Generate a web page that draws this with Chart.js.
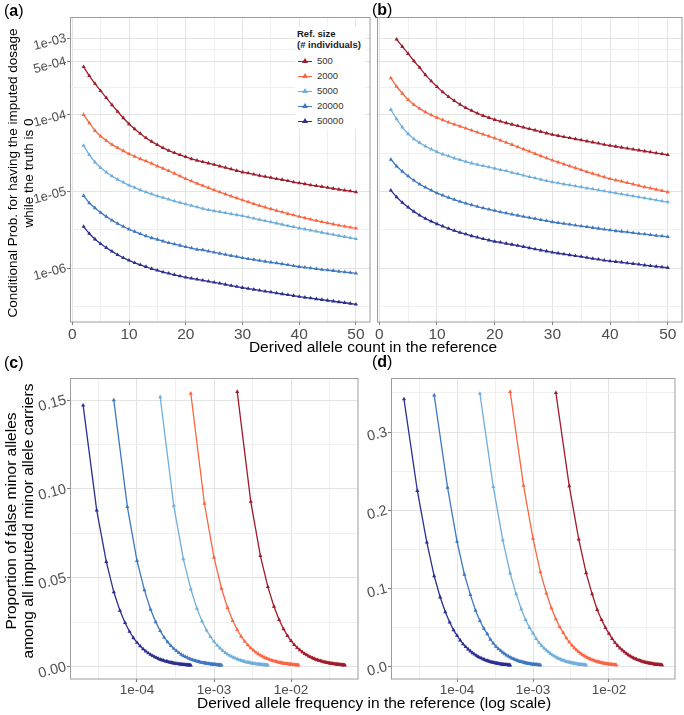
<!DOCTYPE html>
<html>
<head>
<meta charset="utf-8">
<script src="https://cdn.jsdelivr.net/npm/chart.js@4.4.0/dist/chart.umd.min.js"></script>
<style>
  body { margin: 0; background: #fff; font-family: "Liberation Sans", Arial, sans-serif; }
  #fig { position: relative; width: 684px; height: 715px; overflow: hidden; background: #fff; }
  canvas { position: absolute; }
  .txt { position: absolute; color: #000; white-space: nowrap; z-index: 2; }
  .tag { font-size: 16px; line-height: 18px; }
  .xtitle { font-size: 15.5px; line-height: 18px; text-align: center; width: 420px; }
  .ytitle { text-align: center; transform: rotate(-90deg); }
  #legendA { position: absolute; left: 295px; top: 27px; width: 70px; height: 102px; background: #fff; z-index: 2; }
  #legendA .lg-title { position: absolute; left: 2px; top: 1px; font-size: 9.5px; line-height: 11px; font-weight: bold; color: #1a1a1a; }
  #legendA .lg-row { position: absolute; left: 0; height: 12px; width: 70px; }
  #legendA .lg-sw { position: absolute; left: 3px; top: 5.5px; width: 14px; height: 1.4px; }
  #legendA .lg-sw i { position: absolute; left: 4px; top: -2.5px; width: 0; height: 0;
    border-left: 3px solid transparent; border-right: 3px solid transparent; border-bottom: 5px solid; }
  #legendA .lg-tx { position: absolute; left: 22px; top: 0; font-size: 9.5px; line-height: 12px; color: #333; }
</style>
</head>
<body>
<div id="fig">
  <canvas id="chartA" width="372" height="345" style="left:0;top:0"></canvas>
  <canvas id="chartB" width="312" height="345" style="left:372px;top:0"></canvas>
  <canvas id="chartC" width="362" height="362" style="left:0;top:340px"></canvas>
  <canvas id="chartD" width="322" height="362" style="left:362px;top:340px"></canvas>

  <div class="txt tag" style="left:4px;top:2px">(<b>a</b>)</div>
  <div class="txt tag" style="left:372px;top:1px">(<b>b</b>)</div>
  <div class="txt tag" style="left:4px;top:354px">(<b>c</b>)</div>
  <div class="txt tag" style="left:372px;top:353px">(<b>d</b>)</div>

  <div class="txt ytitle" style="left:-139px;top:157px;width:320px;height:32px;font-size:13.5px;line-height:16px">Conditional Prob. for having the imputed dosage<br>while the truth is 0</div>
  <div class="txt ytitle" style="left:-141px;top:504px;width:320px;height:34px;font-size:15.5px;line-height:17px">Proportion of false minor alleles<br>among all imputedd minor allele carriers</div>

  <div class="txt xtitle" style="left:163px;top:338px">Derived allele count in the reference</div>
  <div class="txt xtitle" style="left:164px;top:694px">Derived allele frequency in the reference (log scale)</div>

  <div id="legendA"><div class="lg-title">Ref. size<br>(# individuals)</div></div>
</div>

<script>
// ---- data ----
const counts = [2, 3, 4, 5, 6, 7, 8, 9, 10, 11, 12, 13, 14, 15, 16, 17, 18, 19, 20, 21, 22, 23, 24, 25, 26,
  27, 28, 29, 30, 31, 32, 33, 34, 35, 36, 37, 38, 39, 40, 41, 42, 43, 44, 45, 46, 47, 48, 49, 50];
const refSizes = [500, 2000, 5000, 20000, 50000];
const sizeColors = ['#a01b2b', '#fb6642', '#70afdc', '#3f78c1', '#2b2f8f'];

// (a) conditional probability
const probA500 = [4.20e-4, 3.21e-4, 2.55e-4, 2.05e-4, 1.66e-4, 1.34e-4, 1.10e-4, 9.06e-5, 7.57e-5, 6.52e-5,
  5.66e-5, 4.98e-5, 4.46e-5, 4.04e-5, 3.69e-5, 3.40e-5, 3.18e-5, 2.99e-5, 2.82e-5, 2.65e-5,
  2.53e-5, 2.43e-5, 2.33e-5, 2.24e-5, 2.13e-5, 2.04e-5, 1.95e-5, 1.86e-5, 1.78e-5, 1.73e-5,
  1.67e-5, 1.61e-5, 1.56e-5, 1.51e-5, 1.46e-5, 1.42e-5, 1.37e-5, 1.32e-5, 1.28e-5, 1.25e-5,
  1.21e-5, 1.18e-5, 1.15e-5, 1.12e-5, 1.09e-5, 1.06e-5, 1.03e-5, 1.01e-5, 9.8e-6];
const probA2000 = [1.00e-4, 7.80e-5, 6.19e-5, 5.24e-5, 4.59e-5, 4.07e-5, 3.69e-5, 3.37e-5, 3.08e-5, 2.85e-5,
  2.65e-5, 2.48e-5, 2.31e-5, 2.13e-5, 1.99e-5, 1.85e-5, 1.71e-5, 1.58e-5, 1.46e-5, 1.36e-5,
  1.27e-5, 1.19e-5, 1.11e-5, 1.04e-5, 9.77e-6, 9.18e-6, 8.65e-6, 8.17e-6, 7.69e-6, 7.28e-6,
  6.89e-6, 6.53e-6, 6.21e-6, 5.90e-6, 5.62e-6, 5.36e-6, 5.12e-6, 4.90e-6, 4.69e-6, 4.50e-6,
  4.32e-6, 4.16e-6, 4.00e-6, 3.86e-6, 3.73e-6, 3.61e-6, 3.50e-6, 3.40e-6, 3.30e-6];
const probA5000 = [3.95e-5, 2.99e-5, 2.40e-5, 2.03e-5, 1.78e-5, 1.58e-5, 1.43e-5, 1.31e-5, 1.20e-5, 1.12e-5,
  1.04e-5, 9.79e-6, 9.23e-6, 8.69e-6, 8.28e-6, 7.87e-6, 7.48e-6, 7.13e-6, 6.84e-6, 6.52e-6,
  6.25e-6, 5.96e-6, 5.75e-6, 5.56e-6, 5.40e-6, 5.24e-6, 5.08e-6, 4.93e-6, 4.79e-6, 4.61e-6,
  4.45e-6, 4.29e-6, 4.13e-6, 3.98e-6, 3.84e-6, 3.70e-6, 3.56e-6, 3.44e-6, 3.31e-6, 3.21e-6,
  3.10e-6, 3.01e-6, 2.91e-6, 2.82e-6, 2.73e-6, 2.64e-6, 2.56e-6, 2.48e-6, 2.40e-6];
const probA20000 = [8.79e-6, 7.05e-6, 6.07e-6, 5.28e-6, 4.69e-6, 4.20e-6, 3.80e-6, 3.48e-6, 3.21e-6, 2.99e-6,
  2.79e-6, 2.62e-6, 2.47e-6, 2.36e-6, 2.24e-6, 2.13e-6, 2.05e-6, 1.97e-6, 1.89e-6, 1.82e-6,
  1.75e-6, 1.72e-6, 1.66e-6, 1.60e-6, 1.55e-6, 1.50e-6, 1.45e-6, 1.41e-6, 1.36e-6, 1.32e-6,
  1.29e-6, 1.25e-6, 1.22e-6, 1.19e-6, 1.16e-6, 1.13e-6, 1.10e-6, 1.07e-6, 1.04e-6, 1.02e-6,
  9.98e-7, 9.77e-7, 9.57e-7, 9.40e-7, 9.23e-7, 9.04e-7, 8.87e-7, 8.71e-7, 8.53e-7];
const probA50000 = [3.48e-6, 2.82e-6, 2.38e-6, 2.07e-6, 1.84e-6, 1.65e-6, 1.49e-6, 1.36e-6, 1.26e-6, 1.17e-6,
  1.10e-6, 1.04e-6, 9.79e-7, 9.33e-7, 8.87e-7, 8.53e-7, 8.18e-7, 7.87e-7, 7.57e-7, 7.35e-7,
  7.13e-7, 6.92e-7, 6.71e-7, 6.52e-7, 6.31e-7, 6.11e-7, 5.92e-7, 5.73e-7, 5.55e-7, 5.40e-7,
  5.26e-7, 5.12e-7, 4.98e-7, 4.85e-7, 4.72e-7, 4.59e-7, 4.47e-7, 4.36e-7, 4.24e-7, 4.14e-7,
  4.05e-7, 3.95e-7, 3.86e-7, 3.78e-7, 3.69e-7, 3.61e-7, 3.53e-7, 3.45e-7, 3.37e-7];

// (b) conditional probability (500 has no value at count 2)
const probB500 = [null, 9.62e-4, 7.71e-4, 6.25e-4, 5.02e-4, 4.11e-4, 3.30e-4, 2.74e-4, 2.31e-4, 1.97e-4,
  1.71e-4, 1.52e-4, 1.36e-4, 1.23e-4, 1.13e-4, 1.04e-4, 9.70e-5, 9.14e-5, 8.61e-5, 8.18e-5,
  7.80e-5, 7.46e-5, 7.14e-5, 6.84e-5, 6.55e-5, 6.27e-5, 6.00e-5, 5.74e-5, 5.50e-5, 5.32e-5,
  5.14e-5, 4.98e-5, 4.82e-5, 4.67e-5, 4.51e-5, 4.37e-5, 4.23e-5, 4.08e-5, 3.95e-5, 3.85e-5,
  3.74e-5, 3.64e-5, 3.54e-5, 3.44e-5, 3.34e-5, 3.25e-5, 3.16e-5, 3.08e-5, 2.99e-5];
const probB2000 = [3.00e-4, 2.33e-4, 1.89e-4, 1.57e-4, 1.35e-4, 1.20e-4, 1.08e-4, 9.91e-5, 9.14e-5, 8.53e-5,
  7.94e-5, 7.48e-5, 7.05e-5, 6.64e-5, 6.25e-5, 5.89e-5, 5.55e-5, 5.24e-5, 4.93e-5, 4.62e-5,
  4.34e-5, 4.06e-5, 3.79e-5, 3.55e-5, 3.32e-5, 3.10e-5, 2.90e-5, 2.72e-5, 2.54e-5, 2.40e-5,
  2.26e-5, 2.14e-5, 2.02e-5, 1.91e-5, 1.80e-5, 1.71e-5, 1.62e-5, 1.54e-5, 1.46e-5, 1.40e-5,
  1.35e-5, 1.29e-5, 1.24e-5, 1.19e-5, 1.14e-5, 1.10e-5, 1.06e-5, 1.02e-5, 9.77e-6];
const probB5000 = [1.16e-4, 8.79e-5, 6.84e-5, 5.61e-5, 4.83e-5, 4.29e-5, 3.88e-5, 3.55e-5, 3.27e-5, 3.05e-5,
  2.88e-5, 2.71e-5, 2.58e-5, 2.45e-5, 2.33e-5, 2.24e-5, 2.15e-5, 2.07e-5, 1.99e-5, 1.91e-5,
  1.85e-5, 1.76e-5, 1.69e-5, 1.62e-5, 1.55e-5, 1.49e-5, 1.43e-5, 1.37e-5, 1.32e-5, 1.28e-5,
  1.24e-5, 1.21e-5, 1.17e-5, 1.14e-5, 1.10e-5, 1.07e-5, 1.04e-5, 1.01e-5, 9.79e-6, 9.51e-6,
  9.23e-6, 8.96e-6, 8.69e-6, 8.43e-6, 8.18e-6, 7.94e-6, 7.71e-6, 7.48e-6, 7.26e-6];
const probB20000 = [2.61e-5, 2.13e-5, 1.82e-5, 1.58e-5, 1.39e-5, 1.24e-5, 1.13e-5, 1.03e-5, 9.51e-6, 8.87e-6,
  8.28e-6, 7.80e-6, 7.35e-6, 6.98e-6, 6.65e-6, 6.32e-6, 6.07e-6, 5.83e-6, 5.61e-6, 5.38e-6,
  5.22e-6, 5.02e-6, 4.85e-6, 4.70e-6, 4.55e-6, 4.40e-6, 4.26e-6, 4.12e-6, 3.99e-6, 3.89e-6,
  3.80e-6, 3.71e-6, 3.61e-6, 3.53e-6, 3.44e-6, 3.36e-6, 3.28e-6, 3.20e-6, 3.12e-6, 3.05e-6,
  3.00e-6, 2.94e-6, 2.88e-6, 2.82e-6, 2.77e-6, 2.71e-6, 2.65e-6, 2.61e-6, 2.55e-6];
const probB50000 = [1.03e-5, 8.43e-6, 7.13e-6, 6.19e-6, 5.45e-6, 4.88e-6, 4.42e-6, 4.07e-6, 3.76e-6, 3.51e-6,
  3.27e-6, 3.08e-6, 2.90e-6, 2.77e-6, 2.62e-6, 2.51e-6, 2.40e-6, 2.31e-6, 2.22e-6, 2.16e-6,
  2.09e-6, 2.03e-6, 1.96e-6, 1.90e-6, 1.83e-6, 1.77e-6, 1.71e-6, 1.66e-6, 1.60e-6, 1.56e-6,
  1.52e-6, 1.48e-6, 1.44e-6, 1.41e-6, 1.37e-6, 1.33e-6, 1.30e-6, 1.26e-6, 1.23e-6, 1.21e-6,
  1.19e-6, 1.16e-6, 1.14e-6, 1.12e-6, 1.09e-6, 1.07e-6, 1.05e-6, 1.03e-6, 1.01e-6];

// (c) proportion of false minor alleles
const falseC500 = [0.1547, 0.0929, 0.0624, 0.0449, 0.0339, 0.0264, 0.0212, 0.0174, 0.0146, 0.0124,
  0.0107, 0.0094, 0.0083, 0.0073, 0.0066, 0.0059, 0.0054, 0.0049, 0.0045, 0.0041,
  0.0038, 0.0035, 0.0033, 0.0030, 0.0028, 0.0026, 0.0025, 0.0023, 0.0022, 0.0021,
  0.0020, 0.0019, 0.0018, 0.0017, 0.0016, 0.0015, 0.0015, 0.0014, 0.0013, 0.0013,
  0.0012, 0.0012, 0.0011, 0.0011, 0.0010, 0.0010, 0.0010, 0.0009, 0.0009];
const falseC2000 = [0.1537, 0.0918, 0.0614, 0.0440, 0.0332, 0.0259, 0.0208, 0.0170, 0.0143, 0.0122,
  0.0105, 0.0092, 0.0081, 0.0072, 0.0064, 0.0058, 0.0052, 0.0048, 0.0044, 0.0040,
  0.0037, 0.0034, 0.0032, 0.0030, 0.0028, 0.0026, 0.0024, 0.0023, 0.0021, 0.0020,
  0.0019, 0.0018, 0.0017, 0.0016, 0.0016, 0.0015, 0.0014, 0.0014, 0.0013, 0.0012,
  0.0012, 0.0011, 0.0011, 0.0011, 0.0010, 0.0010, 0.0009, 0.0009, 0.0009];
const falseC5000 = [0.1517, 0.0906, 0.0605, 0.0436, 0.0327, 0.0256, 0.0205, 0.0168, 0.0141, 0.0120,
  0.0104, 0.0090, 0.0079, 0.0070, 0.0063, 0.0057, 0.0051, 0.0047, 0.0043, 0.0039,
  0.0036, 0.0034, 0.0031, 0.0029, 0.0027, 0.0025, 0.0024, 0.0022, 0.0021, 0.0020,
  0.0019, 0.0018, 0.0017, 0.0016, 0.0015, 0.0015, 0.0014, 0.0013, 0.0013, 0.0012,
  0.0012, 0.0011, 0.0011, 0.0010, 0.0010, 0.0010, 0.0009, 0.0009, 0.0009];
const falseC20000 = [0.1500, 0.0899, 0.0596, 0.0431, 0.0322, 0.0252, 0.0202, 0.0165, 0.0139, 0.0118,
  0.0102, 0.0089, 0.0078, 0.0069, 0.0062, 0.0056, 0.0051, 0.0046, 0.0042, 0.0039,
  0.0036, 0.0033, 0.0031, 0.0029, 0.0027, 0.0025, 0.0023, 0.0022, 0.0021, 0.0020,
  0.0019, 0.0018, 0.0017, 0.0016, 0.0015, 0.0014, 0.0014, 0.0013, 0.0013, 0.0012,
  0.0012, 0.0011, 0.0011, 0.0010, 0.0010, 0.0010, 0.0009, 0.0009, 0.0009];
const falseC50000 = [0.1470, 0.0880, 0.0590, 0.0420, 0.0316, 0.0247, 0.0198, 0.0162, 0.0136, 0.0116,
  0.0100, 0.0087, 0.0077, 0.0068, 0.0061, 0.0055, 0.0050, 0.0045, 0.0041, 0.0038,
  0.0035, 0.0032, 0.0030, 0.0028, 0.0026, 0.0024, 0.0023, 0.0021, 0.0020, 0.0019,
  0.0018, 0.0017, 0.0016, 0.0015, 0.0015, 0.0014, 0.0013, 0.0013, 0.0012, 0.0012,
  0.0011, 0.0011, 0.0010, 0.0010, 0.0010, 0.0009, 0.0009, 0.0009, 0.0008];

// (d) proportion of false minor alleles
const falseD500 = [0.350, 0.231, 0.163, 0.120, 0.093, 0.073, 0.060, 0.050, 0.0425, 0.036,
  0.031, 0.027, 0.0238, 0.0212, 0.0189, 0.0169, 0.0152, 0.0138, 0.0125, 0.0114,
  0.0105, 0.0097, 0.0089, 0.0083, 0.0077, 0.0071, 0.0067, 0.0062, 0.0058, 0.0055,
  0.0052, 0.0049, 0.0046, 0.0044, 0.0042, 0.0040, 0.0038, 0.0036, 0.0034, 0.0033,
  0.0031, 0.0030, 0.0029, 0.0028, 0.0027, 0.0026, 0.0025, 0.0024, 0.0023];
const falseD2000 = [0.3515, 0.2315, 0.1638, 0.121, 0.094, 0.075, 0.061, 0.051, 0.0435, 0.0368,
  0.0316, 0.0275, 0.0241, 0.0214, 0.0191, 0.0171, 0.0154, 0.0139, 0.0126, 0.0115,
  0.0106, 0.0097, 0.0090, 0.0083, 0.0077, 0.0072, 0.0067, 0.0063, 0.0059, 0.0055,
  0.0052, 0.0049, 0.0046, 0.0044, 0.0042, 0.0040, 0.0038, 0.0036, 0.0034, 0.0033,
  0.0031, 0.0030, 0.0029, 0.0028, 0.0027, 0.0026, 0.0025, 0.0024, 0.0023];
const falseD5000 = [0.349, 0.230, 0.162, 0.1196, 0.093, 0.074, 0.060, 0.050, 0.043, 0.036,
  0.031, 0.027, 0.0237, 0.0211, 0.0188, 0.0168, 0.0151, 0.0137, 0.0124, 0.0113,
  0.0104, 0.0096, 0.0088, 0.0082, 0.0076, 0.0071, 0.0066, 0.0062, 0.0058, 0.0054,
  0.0051, 0.0048, 0.0046, 0.0043, 0.0041, 0.0039, 0.0037, 0.0035, 0.0034, 0.0032,
  0.0031, 0.0030, 0.0028, 0.0027, 0.0026, 0.0025, 0.0024, 0.0023, 0.0023];
const falseD20000 = [0.347, 0.229, 0.160, 0.118, 0.092, 0.072, 0.059, 0.049, 0.042, 0.035,
  0.030, 0.026, 0.023, 0.0207, 0.0184, 0.0165, 0.0148, 0.0134, 0.0122, 0.0111,
  0.0102, 0.0094, 0.0087, 0.0080, 0.0074, 0.0069, 0.0065, 0.0061, 0.0057, 0.0053,
  0.0050, 0.0047, 0.0045, 0.0042, 0.0040, 0.0038, 0.0036, 0.0034, 0.0033, 0.0031,
  0.0030, 0.0029, 0.0028, 0.0027, 0.0026, 0.0025, 0.0024, 0.0023, 0.0022];
const falseD50000 = [0.342, 0.225, 0.159, 0.116, 0.089, 0.070, 0.057, 0.047, 0.040, 0.034,
  0.029, 0.0255, 0.0225, 0.020, 0.0178, 0.016, 0.0144, 0.013, 0.0118, 0.0108,
  0.0099, 0.0091, 0.0084, 0.0078, 0.0072, 0.0067, 0.0063, 0.0059, 0.0055, 0.0052,
  0.0049, 0.0046, 0.0043, 0.0041, 0.0039, 0.0037, 0.0035, 0.0033, 0.0032, 0.0030,
  0.0029, 0.0028, 0.0027, 0.0026, 0.0025, 0.0024, 0.0023, 0.0022, 0.0021];

// ---- ticks (empty label = minor grid line) ----
const countTicks = [0, 5, 10, 15, 20, 25, 30, 35, 40, 45, 50];
const countLabels = ['0', '', '10', '', '20', '', '30', '', '40', '', '50'];
const probTicks = [3.16e-7, 1e-6, 3.16e-6, 1e-5, 3.16e-5, 1e-4, 2.24e-4, 5e-4, 7.07e-4, 1e-3];
const probLabels = ['', '1e-06', '', '1e-05', '', '1e-04', '', '5e-04', '', '1e-03'];
const freqTicks = [3.16e-5, 1e-4, 3.16e-4, 1e-3, 3.16e-3, 1e-2, 3.16e-2];
const freqLabels = ['', '1e-04', '', '1e-03', '', '1e-02', ''];
const propTicksC = [0, 0.025, 0.05, 0.075, 0.10, 0.125, 0.15];
const propLabelsC = ['0.00', '', '0.05', '', '0.10', '', '0.15'];
const propTicksD = [0, 0.05, 0.1, 0.15, 0.2, 0.25, 0.3, 0.35];
const propLabelsD = ['0.0', '', '0.1', '', '0.2', '', '0.3', ''];

Chart.defaults.font.family = '"Liberation Sans", Arial, sans-serif';

const panelBorder = {
  id: 'panelBorder',
  afterDraw(chart) {
    const { ctx, chartArea: a } = chart;
    ctx.save();
    ctx.strokeStyle = '#9c9c9c';
    ctx.lineWidth = 1;
    const l = Math.round(a.left) + 0.5, t = Math.round(a.top) + 0.5;
    ctx.strokeRect(l, t, Math.round(a.right) - l, Math.round(a.bottom) - t);
    ctx.restore();
  }
};

function gridFor(labels, showTicks) {
  return {
    color: c => labels[c.index] === '' ? '#efefef' : '#e3e3e3',
    lineWidth: 1,
    drawTicks: showTicks,
    tickLength: 3,
    tickColor: c => labels[c.index] === '' ? 'rgba(0,0,0,0)' : '#7a7a7a'
  };
}

function axis(o) {
  return {
    type: o.type,
    min: o.min,
    max: o.max,
    bounds: 'data',
    afterBuildTicks: s => { s.ticks = o.ticks.map(v => ({ value: v })); },
    afterFit: s => { if (o.width !== undefined) s.width = o.width; if (o.height !== undefined) s.height = o.height; },
    ticks: {
      display: o.showLabels !== false,
      autoSkip: false,
      minRotation: o.rotation || 0,
      maxRotation: o.rotation || 0,
      padding: o.pad || 0,
      color: '#4d4d4d',
      font: { size: o.fontSize },
      callback: (v, i) => o.labels[i]
    },
    grid: gridFor(o.labels, o.showLabels !== false),
    border: { display: false }
  };
}

function buildPanel(id, series, freqX, xOpts, yOpts, padding) {
  const datasets = series.map((ys, i) => ({
    label: String(refSizes[i]),
    data: ys.map((y, j) => ({ x: freqX ? counts[j] / (2 * refSizes[i]) : counts[j], y: y })),
    borderColor: sizeColors[i],
    backgroundColor: sizeColors[i],
    borderWidth: 1.3,
    pointStyle: 'triangle',
    pointRadius: 2.4,
    pointBorderWidth: 0,
    pointHoverRadius: 2.4,
    tension: 0,
    fill: false
  }));
  return new Chart(document.getElementById(id).getContext('2d'), {
    type: 'line',
    data: { datasets },
    options: {
      responsive: false,
      animation: false,
      events: [],
      layout: { padding },
      plugins: { legend: { display: false }, tooltip: { enabled: false } },
      scales: { x: axis(xOpts), y: axis(yOpts) }
    },
    plugins: [panelBorder]
  });
}

buildPanel('chartA', [probA500, probA2000, probA5000, probA20000, probA50000], false,
  { type: 'linear', min: -0.4, max: 52.4, ticks: countTicks, labels: countLabels, fontSize: 15.5, height: 18 },
  { type: 'logarithmic', min: 1.98e-7, max: 1.88e-3, ticks: probTicks, labels: probLabels, fontSize: 13, width: 70, rotation: 15, pad: 1 },
  { left: 0, top: 17, right: 2, bottom: 5 });

buildPanel('chartB', [probB500, probB2000, probB5000, probB20000, probB50000], false,
  { type: 'linear', min: -0.4, max: 52.4, ticks: countTicks, labels: countLabels, fontSize: 15.5, height: 18 },
  { type: 'logarithmic', min: 1.98e-7, max: 1.88e-3, ticks: probTicks, labels: probLabels, fontSize: 13, width: 5, showLabels: false },
  { left: 0, top: 17, right: 2, bottom: 5 });

buildPanel('chartC', [falseC500, falseC2000, falseC5000, falseC20000, falseC50000], true,
  { type: 'logarithmic', min: 1.35e-5, max: 0.074, ticks: freqTicks, labels: freqLabels, fontSize: 13.5, height: 21 },
  { type: 'linear', min: -0.0069, max: 0.1624, ticks: propTicksC, labels: propLabelsC, fontSize: 14.5, width: 70, rotation: 15, pad: 1 },
  { left: 0, top: 38, right: 4, bottom: 2 });

buildPanel('chartD', [falseD500, falseD2000, falseD5000, falseD20000, falseD50000], true,
  { type: 'logarithmic', min: 1.35e-5, max: 0.074, ticks: freqTicks, labels: freqLabels, fontSize: 13.5, height: 21 },
  { type: 'linear', min: -0.0155, max: 0.369, ticks: propTicksD, labels: propLabelsD, fontSize: 14.5, width: 29, rotation: 15, pad: 1 },
  { left: 0, top: 38, right: 9, bottom: 2 });

// legend of panel (a)
const legendBox = document.getElementById('legendA');
refSizes.forEach((n, i) => {
  const row = document.createElement('div');
  row.className = 'lg-row';
  row.style.top = (28 + i * 15) + 'px';
  row.innerHTML = '<span class="lg-sw" style="background:' + sizeColors[i] + '"><i style="border-bottom-color:' +
    sizeColors[i] + '"></i></span><span class="lg-tx">' + n + '</span>';
  legendBox.appendChild(row);
});
</script>
</body>
</html>
